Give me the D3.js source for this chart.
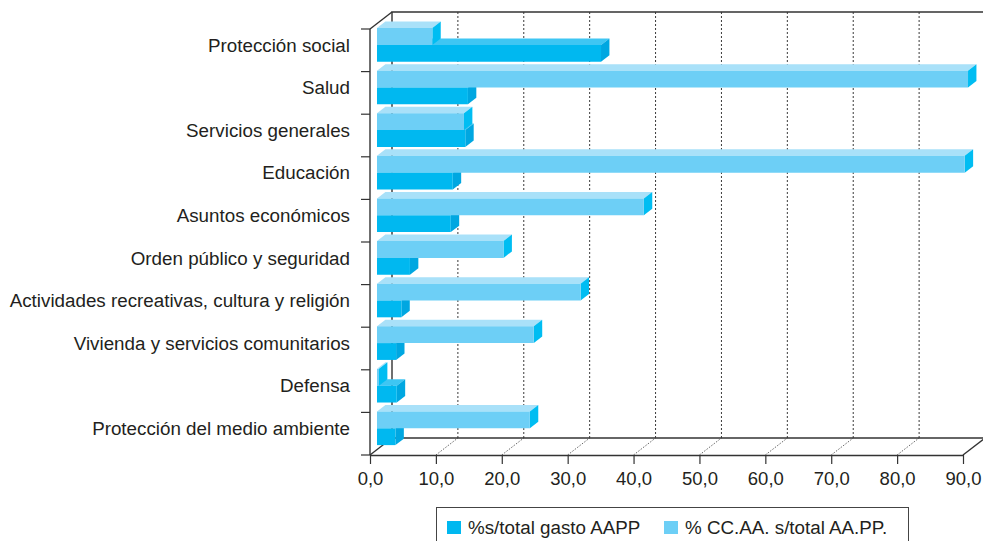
<!DOCTYPE html>
<html>
<head>
<meta charset="utf-8">
<script src="https://cdn.jsdelivr.net/npm/d3@7"></script>
<style>
  html, body { margin: 0; padding: 0; background: #fff; }
  svg { display: block; }
  text { font-family: "Liberation Sans", Arial, sans-serif; fill: #231f20; }
</style>
</head>
<body>
<svg id="chart" width="983" height="541"></svg>
<script>
// Functional spending shares (%)
const categories = [
  "Protección social",
  "Salud",
  "Servicios generales",
  "Educación",
  "Asuntos económicos",
  "Orden público y seguridad",
  "Actividades recreativas, cultura y religión",
  "Vivienda y servicios comunitarios",
  "Defensa",
  "Protección del medio ambiente"
];
const seriesNames = ["%s/total gasto AAPP", "% CC.AA. s/total AA.PP."];
const gastoAAPP = [34.0, 13.8, 13.4, 11.5, 11.2, 5.0, 3.7, 2.9, 3.0, 2.8];
const ccaaSobreAAPP = [8.4, 89.7, 13.2, 89.2, 40.5, 19.2, 30.9, 23.8, 0.3, 23.2];
const tickValues = [0, 10, 20, 30, 40, 50, 60, 70, 80, 90];
const tickLabels = ["0,0", "10,0", "20,0", "30,0", "40,0", "50,0", "60,0", "70,0", "80,0", "90,0"];

const svg = d3.select("#chart");

// Front plane of the 3D box
const plotTop = 29, plotBottom = 455;
const x = d3.scaleLinear().domain([0, 90]).range([370, 963]);
const y = d3.scaleBand().domain(categories).range([plotTop, plotBottom])
  .paddingInner(0.21).paddingOuter(0.105);
const sub = d3.scaleBand().domain(["ccaa", "aapp"]).range([0, y.bandwidth()]);

// Oblique depth projection
const DEPTH_X = 22, DEPTH_Y = -17;
const P = (px, py, z) => [px + DEPTH_X * z, py + DEPTH_Y * z];
const Z0 = 0.318, Z1 = 0.70;

const x0 = x(0), x90 = x(90);

// Back wall + floor
const frame = svg.append("g");
const bk = (px, py) => P(px, py, 1);

tickValues.slice(1, -1).forEach(v => {
  const [bx, by1] = bk(x(v), plotTop);
  const [, by2] = bk(x(v), plotBottom);
  // dotted gridline on the back wall
  frame.append("line")
    .attr("x1", bx).attr("x2", bx).attr("y1", by1).attr("y2", by2)
    .attr("stroke", "#3a3a3a").attr("stroke-width", 1)
    .attr("stroke-dasharray", "2,2");
  // dotted line across the floor
  frame.append("line")
    .attr("x1", x(v)).attr("y1", plotBottom).attr("x2", bx).attr("y2", by2)
    .attr("stroke", "#666").attr("stroke-width", 1)
    .attr("stroke-dasharray", "1.5,1.5");
});

const solid = (pts) => frame.append("path")
  .attr("d", d3.line()(pts))
  .attr("fill", "none").attr("stroke", "#333").attr("stroke-width", 1.4);

// back wall edges
solid([bk(x0, plotBottom), bk(x0, plotTop), bk(x90, plotTop)]);
solid([bk(x0, plotBottom), bk(x90, plotBottom)]);
// depth edges
solid([[x0, plotTop], bk(x0, plotTop)]);
solid([[x0, plotBottom], bk(x0, plotBottom)]);
solid([[x90, plotBottom], bk(x90, plotBottom)]);

// Bars
const colors = {
  aapp: { front: "#00b8f0", top: "#3ec6f3", side: "#00a7e1" },
  ccaa: { front: "#6dcff6", top: "#a9e1f9", side: "#00bdf2" }
};
const bars = svg.append("g");
const barData = [];
categories.forEach((c, i) => {
  barData.push({ cat: c, key: "aapp", value: gastoAAPP[i] });
  barData.push({ cat: c, key: "ccaa", value: ccaaSobreAAPP[i] });
});

barData.forEach(d => {
  const y0 = y(d.cat) + sub(d.key);
  const y1 = y0 + sub.bandwidth();
  const xa = x(0), xb = x(d.value);
  const col = colors[d.key];
  const g = bars.append("g");
  const poly = (pts, fill) => g.append("path")
    .attr("d", d3.line()(pts) + "Z").attr("fill", fill);
  poly([P(xa, y0, Z0), P(xb, y0, Z0), P(xb, y0, Z1), P(xa, y0, Z1)], col.top);
  poly([P(xb, y0, Z0), P(xb, y1, Z0), P(xb, y1, Z1), P(xb, y0, Z1)], col.side);
  poly([P(xa, y0, Z0), P(xb, y0, Z0), P(xb, y1, Z0), P(xa, y1, Z0)], col.front);
});

// Front value axis
const axisG = svg.append("g").attr("transform", `translate(0,${plotBottom})`)
  .call(d3.axisBottom(x).tickValues(tickValues)
    .tickFormat((d, i) => tickLabels[i]).tickSize(9).tickSizeOuter(0));
axisG.select(".domain").attr("stroke", "#333").attr("stroke-width", 1.4);
axisG.selectAll(".tick line").attr("stroke", "#333").attr("stroke-width", 1.2);
axisG.selectAll(".tick text")
  .attr("y", 30).attr("dy", null)
  .style("font-family", "'Liberation Sans', Arial, sans-serif")
  .style("font-size", "18.5px").attr("fill", "#231f20");

// Left category axis with ticks at category boundaries
solid([[x0, plotTop], [x0, plotBottom]]);
const bounds = d3.range(categories.length + 1).map(i => plotTop + i * y.step());
bounds.forEach(b => {
  frame.append("line").attr("x1", x0 - 9).attr("x2", x0)
    .attr("y1", b).attr("y2", b)
    .attr("stroke", "#333").attr("stroke-width", 1.2);
});

// Category labels
svg.append("g").selectAll("text").data(categories).join("text")
  .attr("x", 350)
  .attr("y", (d, i) => plotTop + i * y.step() + 22.5)
  .attr("text-anchor", "end")
  .style("font-size", "18.8px")
  .text(d => d);

// Legend
const leg = svg.append("g");
leg.append("rect").attr("x", 436.5).attr("y", 507.5)
  .attr("width", 472).attr("height", 50)
  .attr("fill", "#fff").attr("stroke", "#444").attr("stroke-width", 1);
const legItems = [
  { name: seriesNames[0], color: colors.aapp.front, x: 447 },
  { name: seriesNames[1], color: colors.ccaa.front, x: 664 }
];
legItems.forEach(it => {
  leg.append("rect").attr("x", it.x).attr("y", 521)
    .attr("width", 14).attr("height", 13).attr("fill", it.color);
  leg.append("text").attr("x", it.x + 21).attr("y", 534)
    .style("font-size", "18.8px").text(it.name);
});
</script>
</body>
</html>
